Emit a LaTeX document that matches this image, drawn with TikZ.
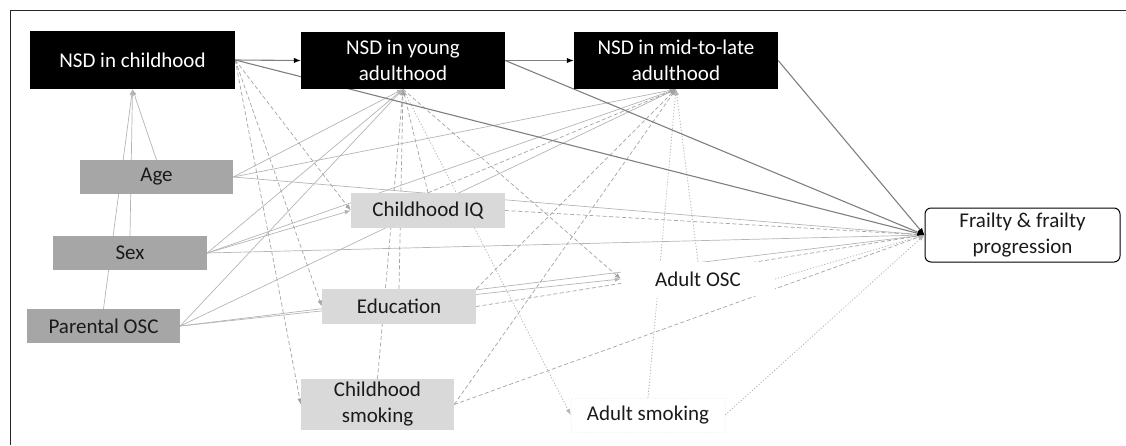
\documentclass[tikz,border=0pt]{standalone}
\usepackage{fontspec}
\setmainfont{Carlito}
\usetikzlibrary{arrows.meta,backgrounds}
\definecolor{confgray}{HTML}{A6A6A6}
\definecolor{medgray}{HTML}{D9D9D9}
\definecolor{lgray}{HTML}{B5B5B5}
\definecolor{dashgray}{HTML}{A3A3A3}
\definecolor{dgray}{HTML}{7F7F7F}
\definecolor{txt}{HTML}{1A1A1A}
\begin{document}
\begin{tikzpicture}[x=1pt,y=-1pt,
  lbl/.style={inner sep=0pt,align=center,font=\fontsize{21}{26}\selectfont},
  nsd/.style={lbl,fill=black,text=white,minimum width=204pt,minimum height=57pt},
  conf/.style={lbl,fill=confgray,text=txt,minimum width=153pt,minimum height=34pt},
  med/.style={lbl,fill=medgray,text=txt,minimum width=154pt,minimum height=35pt},
  adult/.style={lbl,fill=white,text=txt,minimum width=154pt,minimum height=34pt},
  outcome/.style={lbl,fill=white,text=txt,draw=black,line width=1pt,rounded corners=6pt,minimum width=195pt,minimum height=54pt},
  tip/.style={-{Latex[length=6pt,width=4.5pt]}},
  conn/.style={tip,draw=lgray,line width=0.7pt},
  dsh/.style={tip,draw=dashgray,line width=0.7pt,dash pattern=on 4pt off 2.5pt},
  dotl/.style={tip,draw=lgray,line width=0.8pt,dash pattern=on 1.2pt off 1.8pt},
  mainl/.style={draw=dgray,line width=1.1pt,-{Latex[length=7pt,width=5.5pt,color=black]}}
]
\useasboundingbox (0,0) rectangle (1126,445);
\draw[line width=1.3pt,black!85] (1126,10.7) -- (10.7,10.7) -- (10.7,445);

% nodes
\node[nsd,minimum width=205pt,minimum height=58pt] (child) at (132.5,60) {NSD in childhood};
\node[nsd] (young) at (403,60.5) {NSD in young\\adulthood};
\node[nsd] (mid) at (676,60.5) {NSD in mid-to-late\\adulthood};
\node[conf] (age) at (156.5,177) {Age};
\node[conf,minimum width=154pt] (sex) at (130,253) {Sex};
\node[conf] (posc) at (103.5,326) {Parental OSC};
\node[med] (iq) at (428,210.5) {Childhood IQ};
\node[med] (edu) at (399,306.5) {Education};
\node[med,minimum width=153pt,minimum height=51pt] (csmoke) at (377.5,404.5) {Childhood\\smoking};
\node[adult] (aosc) at (698,279) {Adult OSC};
\node[adult,draw=black!5,dash pattern=on 1pt off 1.5pt] (asmoke) at (648,415) {Adult smoking};
\node[outcome] (frail) at (1022.5,235) {Frailty \& frailty\\progression};

\begin{scope}[on background layer]
% confounders -> NSD in childhood
\draw[conn] (age.north) -- (child.south);
\draw[conn] (sex.north) -- (child.south);
\draw[conn] (posc.north) -- (child.south);
% confounders -> later NSD and outcome
\draw[conn] (age.east) -- (young.south);
\draw[conn] (age.east) -- (mid.south);
\draw[conn] (age.east) -- (frail.west);
\draw[conn] (sex.east) -- (young.south);
\draw[conn] (sex.east) -- (mid.south);
\draw[conn] (sex.east) -- (iq.west);
\draw[conn] (sex.east) -- (frail.west);
\draw[conn] (posc.east) -- (young.south);
\draw[conn] (posc.east) -- (mid.south);
\draw[conn] (posc.east) -- (aosc.west);
\draw[conn] (posc.east) -- (frail.west);
% childhood NSD -> childhood mediators
\draw[dsh] (child.east) -- (iq.west);
\draw[dsh] (child.east) -- (edu.west);
\draw[dsh] (child.east) -- (csmoke.west);
% childhood mediators -> later NSD and outcome
\draw[dsh] (iq.north) -- (young.south);
\draw[dsh] (iq.north) -- (mid.south);
\draw[dsh] (iq.east) -- (frail.west);
\draw[dsh] (edu.north) -- (young.south);
\draw[dsh] (edu.north east) -- (mid.south);
\draw[dsh] (edu.east) -- (frail.west);
\draw[dsh] (csmoke.north) -- (young.south);
\draw[dsh] (csmoke.east) -- (mid.south);
\draw[dsh] (csmoke.east) -- (frail.west);
% young adulthood -> adult mediators
\draw[dsh] (young.south) -- (aosc.west);
\draw[dotl] (young.south) -- (asmoke.west);
\draw[dotl] (aosc.north) -- (mid.south);
\draw[dotl] (asmoke.north) -- (mid.south);
\draw[dotl] (aosc.east) -- (frail.west);
\draw[dotl] (asmoke.east) -- (frail.west);
% main paths
\draw[mainl] (child.east) -- (young.west);
\draw[mainl] (young.east) -- (mid.west);
\draw[mainl] (child.east) -- (frail.west);
\draw[mainl] (young.east) -- (frail.west);
\draw[mainl] (mid.east) -- (frail.west);
\end{scope}
\end{tikzpicture}
\end{document}
